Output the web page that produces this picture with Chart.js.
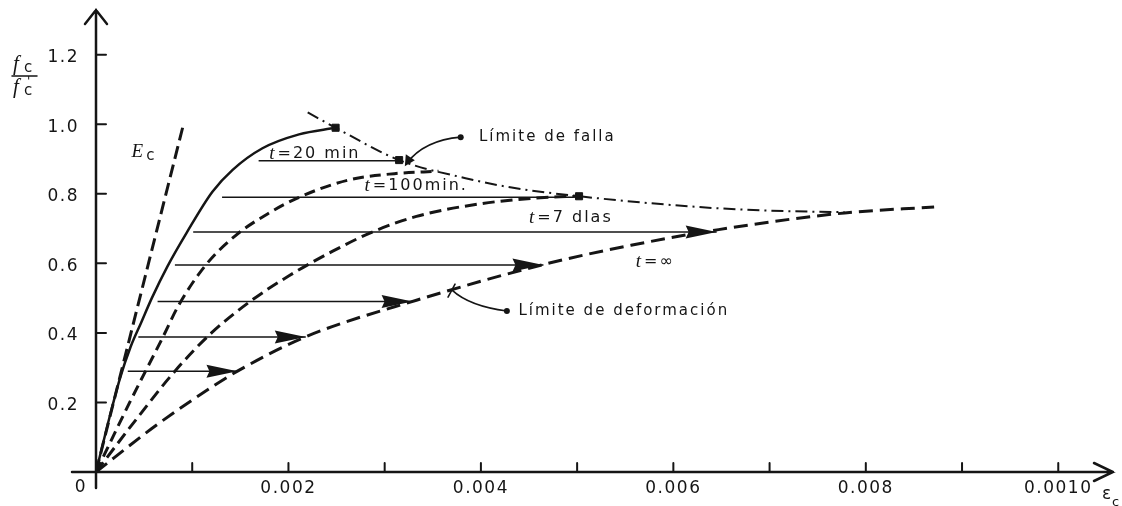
<!DOCTYPE html>
<html>
<head>
<meta charset="utf-8">
<script src="https://cdn.jsdelivr.net/npm/chart.js@4.4.1/dist/chart.umd.min.js"></script>
<style>
    html, body { margin: 0; padding: 0; background: #fff; }
    #wrap { width: 1122px; height: 506px; position: relative; }
</style>
</head>
<body>
<div id="wrap"><canvas id="creepChart"></canvas></div>
<script>
// strain (eps_c) and stress ratio fc/f'c
const ecX = [0, 0.00090];
const ecY = [0, 0.99];

const t20X = [0, 0.00012, 0.00025, 0.00036, 0.00047, 0.00058, 0.00074, 0.00094, 0.00121, 0.00142, 0.00173, 0.00211, 0.00249];
const t20Y = [0, 0.135, 0.27, 0.36, 0.43, 0.50, 0.59, 0.687, 0.806, 0.869, 0.931, 0.971, 0.99];

const t100X = [0, 0.00035, 0.00069, 0.00086, 0.00114, 0.00145, 0.00180, 0.00211, 0.00263, 0.00310, 0.00356];
const t100Y = [0, 0.20, 0.385, 0.48, 0.595, 0.68, 0.745, 0.79, 0.84, 0.858, 0.865];

const t7X = [0, 0.00040, 0.00082, 0.00120, 0.00160, 0.00201, 0.00246, 0.00287, 0.00333, 0.00401, 0.00470, 0.00502];
const t7Y = [0, 0.145, 0.29, 0.40, 0.49, 0.565, 0.635, 0.69, 0.735, 0.772, 0.79, 0.793];

const tInfX = [0, 0.00058, 0.00099, 0.00147, 0.00219, 0.00333, 0.00467, 0.00556, 0.00647, 0.00778, 0.00871];
const tInfY = [0, 0.125, 0.205, 0.29, 0.39, 0.494, 0.598, 0.652, 0.697, 0.745, 0.762];

// failure limit (dash-dot) and its marks
const failX = [0.00220, 0.00249, 0.00315, 0.00384, 0.00432, 0.00502, 0.00626, 0.00695, 0.00778];
const failY = [1.034, 0.99, 0.897, 0.845, 0.818, 0.793, 0.762, 0.752, 0.747];
const markX = [0.00249, 0.00315, 0.00502];
const markY = [0.99, 0.897, 0.793];

// sustained load lines
const loadLevel = [0.895, 0.79, 0.69, 0.595, 0.49, 0.388, 0.29];
const loadStart = [0.00169, 0.00131, 0.00101, 0.00082, 0.00064, 0.00044, 0.00033];
const loadEnd   = [0.00315, 0.00496, 0.00645, 0.00465, 0.00329, 0.00218, 0.00147];
const loadArrow = [false, false, true, true, true, true, true];

const xTickValues = [0, 0.001, 0.002, 0.003, 0.004, 0.005, 0.006, 0.007, 0.008, 0.009, 0.010];
const xTickLabels = ["", "", "0.002", "", "0.004", "", "0.006", "", "0.008", "", "0.0010"];
const yTickValues = [0, 0.2, 0.4, 0.6, 0.8, 1.0, 1.2];
const yTickLabels = ["", "0.2", "0.4", "0.6", "0.8", "1.0", "1.2"];

const INK = "#151515";
const SANS = '"DejaVu Sans", sans-serif';
const SERIF_I = 'italic 19px "Liberation Serif", serif';

function pts(xs, ys) {
    return xs.map((x, i) => ({ x: x, y: ys[i] }));
}

function curve(xs, ys, width, dash) {
    return {
        data: pts(xs, ys),
        showLine: true,
        borderColor: INK,
        borderWidth: width,
        borderDash: dash || [],
        pointRadius: 0,
        cubicInterpolationMode: "monotone",
        fill: false
    };
}

const datasets = [
    curve(ecX, ecY, 3, [13, 6]),
    curve(t20X, t20Y, 2.5),
    curve(t100X, t100Y, 3, [11, 6]),
    curve(t7X, t7Y, 3, [12, 6]),
    curve(tInfX, tInfY, 3, [14, 7]),
    curve(failX, failY, 2, [12, 5, 2, 5])
];
loadLevel.forEach((lv, i) => {
    datasets.push(curve([loadStart[i], loadEnd[i]], [lv, lv], 1.5));
});
datasets.push({
    data: pts(markX, markY),
    showLine: false,
    pointStyle: "rect",
    pointRadius: 5,
    backgroundColor: INK,
    borderColor: INK
});

// text notes (anchored in data units)
const notes = [
    { x: 0.00037, y: 0.92, parts: [["E", SERIF_I, 0], ["c", "15px " + SANS, 4]] },
    { x: 0.00180, y: 0.914, parts: [["t", SERIF_I, 0], ["=20 min", "16px " + SANS, 0]] },
    { x: 0.00279, y: 0.822, parts: [["t", SERIF_I, 0], ["=100min.", "16px " + SANS, 0]] },
    { x: 0.00450, y: 0.730, parts: [["t", SERIF_I, 0], ["=7 dlas", "16px " + SANS, 0]] },
    { x: 0.00561, y: 0.603, parts: [["t", SERIF_I, 0], ["=\u221E", "16px " + SANS, 0]] },
    { x: 0.00398, y: 0.963, parts: [["L\u00EDmite de falla", "15px " + SANS, 0]] },
    { x: 0.00439, y: 0.463, parts: [["L\u00EDmite de deformaci\u00F3n", "15px " + SANS, 0]] }
];

function drawParts(ctx, parts, x0, y0) {
    let cx = x0;
    parts.forEach(p => {
        ctx.font = p[1];
        ctx.fillText(p[0], cx, y0 + p[2]);
        cx += ctx.measureText(p[0]).width + 1;
    });
}

const decor = {
    id: "decor",
    beforeDraw(chart) {
        chart.ctx.letterSpacing = "1.5px";
    },
    afterDatasetsDraw(chart) {
        const { ctx, chartArea, scales: { x, y } } = chart;
        const px = v => x.getPixelForValue(v);
        const py = v => y.getPixelForValue(v);
        const ox = px(0), oy = py(0);

        ctx.save();
        ctx.strokeStyle = INK;
        ctx.fillStyle = INK;
        ctx.lineCap = "round";
        ctx.setLineDash([]);

        // axes with open arrow heads
        ctx.lineWidth = 2.5;
        ctx.beginPath();
        ctx.moveTo(ox, oy + 16);
        ctx.lineTo(ox, chartArea.top - 3);
        ctx.moveTo(ox - 24, oy);
        ctx.lineTo(chartArea.right - 3, oy);
        ctx.moveTo(ox - 11, chartArea.top + 11);
        ctx.lineTo(ox, chartArea.top - 3);
        ctx.lineTo(ox + 11, chartArea.top + 11);
        ctx.moveTo(chartArea.right - 22, oy - 9);
        ctx.lineTo(chartArea.right - 3, oy);
        ctx.lineTo(chartArea.right - 22, oy + 9);
        ctx.stroke();

        // inner tick marks
        ctx.lineWidth = 2;
        ctx.beginPath();
        x.ticks.forEach(t => {
            if (t.value > 0) { ctx.moveTo(px(t.value), oy); ctx.lineTo(px(t.value), oy - 9); }
        });
        y.ticks.forEach(t => {
            if (t.value > 0) { ctx.moveTo(ox, py(t.value)); ctx.lineTo(ox + 10, py(t.value)); }
        });
        ctx.stroke();

        // arrow heads on sustained load lines
        loadLevel.forEach((lv, i) => {
            if (!loadArrow[i]) return;
            const ex = px(loadEnd[i]), ey = py(lv);
            ctx.beginPath();
            ctx.moveTo(ex, ey);
            ctx.lineTo(ex - 31, ey - 6.5);
            ctx.lineTo(ex - 28, ey);
            ctx.lineTo(ex - 31, ey + 6.5);
            ctx.closePath();
            ctx.fill();
        });

        // leader: Limite de falla
        ctx.lineWidth = 1.6;
        let dx = px(0.00379), dy = py(0.963);
        let ex = px(0.00323), ey = py(0.888);
        ctx.beginPath();
        ctx.moveTo(dx, dy);
        ctx.quadraticCurveTo(px(0.00341), py(0.954), ex, ey);
        ctx.stroke();
        ctx.beginPath();
        ctx.moveTo(ex - 2, ey + 3);
        ctx.lineTo(ex - 1, ey - 9);
        ctx.lineTo(ex + 8, ey - 3);
        ctx.closePath();
        ctx.fill();
        ctx.beginPath();
        ctx.arc(dx, dy, 3, 0, Math.PI * 2);
        ctx.fill();

        // leader: Limite de deformacion
        dx = px(0.00427); dy = py(0.463);
        ex = px(0.00370); ey = py(0.523);
        ctx.beginPath();
        ctx.moveTo(dx, dy);
        ctx.quadraticCurveTo(px(0.00388), py(0.477), ex, ey);
        ctx.moveTo(ex - 4, ey + 7);
        ctx.lineTo(ex + 3, ey - 6);
        ctx.stroke();
        ctx.beginPath();
        ctx.arc(dx, dy, 3, 0, Math.PI * 2);
        ctx.fill();

        // texts
        ctx.textBaseline = "middle";
        ctx.textAlign = "left";
        ctx.letterSpacing = "2px";
        notes.forEach(n => drawParts(ctx, n.parts, px(n.x), py(n.y)));

        ctx.letterSpacing = "1.5px";
        ctx.textAlign = "center";
        ctx.font = "17px " + SANS;
        ctx.fillText("0", ox - 15, oy + 16);

        // y title fc / f'c
        ctx.letterSpacing = "0px";
        ctx.textAlign = "left";
        ctx.font = 'italic 21px "Liberation Serif", serif';
        ctx.fillText("f", 13, 64);
        ctx.fillText("f", 13, 87);
        ctx.font = "15px " + SANS;
        ctx.fillText("c", 24, 68);
        ctx.fillText("c", 24, 91);
        ctx.font = "12px " + SANS;
        ctx.fillText("'", 27, 82);
        ctx.lineWidth = 1.5;
        ctx.beginPath();
        ctx.moveTo(12, 76);
        ctx.lineTo(37, 76);
        ctx.stroke();

        // x title eps_c
        ctx.font = "17px " + SANS;
        ctx.fillText("\u03B5", 1102, 495);
        ctx.font = "13px " + SANS;
        ctx.fillText("c", 1112, 503);

        ctx.restore();
    },
    afterDraw(chart) {
        chart.ctx.letterSpacing = "0px";
    }
};

new Chart(document.getElementById("creepChart"), {
    type: "scatter",
    data: { datasets: datasets },
    options: {
        responsive: true,
        maintainAspectRatio: false,
        animation: false,
        layout: { padding: { top: 13, right: 3, left: 0, bottom: 0 } },
        plugins: {
            legend: { display: false },
            tooltip: { enabled: false }
        },
        scales: {
            x: {
                type: "linear",
                min: 0,
                max: 0.0106,
                afterBuildTicks: axis => { axis.ticks = xTickValues.map(v => ({ value: v })); },
                afterFit: axis => {
                    axis.height = 34;
                    axis.paddingLeft = 0;
                    axis.paddingRight = 0;
                },
                grid: { display: false, drawTicks: false },
                border: { display: false },
                ticks: {
                    autoSkip: false,
                    maxRotation: 0,
                    padding: 6,
                    color: INK,
                    font: { family: SANS, size: 17 },
                    callback: (v, i) => xTickLabels[i]
                }
            },
            y: {
                type: "linear",
                min: 0,
                max: 1.32,
                afterBuildTicks: axis => { axis.ticks = yTickValues.map(v => ({ value: v })); },
                afterFit: axis => {
                    axis.width = 96;
                    axis.paddingTop = 0;
                    axis.paddingBottom = 0;
                },
                grid: { display: false, drawTicks: false },
                border: { display: false },
                ticks: {
                    autoSkip: false,
                    padding: 17,
                    labelOffset: 3,
                    color: INK,
                    font: { family: SANS, size: 17 },
                    callback: (v, i) => yTickLabels[i]
                }
            }
        }
    },
    plugins: [decor]
});
</script>
</body>
</html>
